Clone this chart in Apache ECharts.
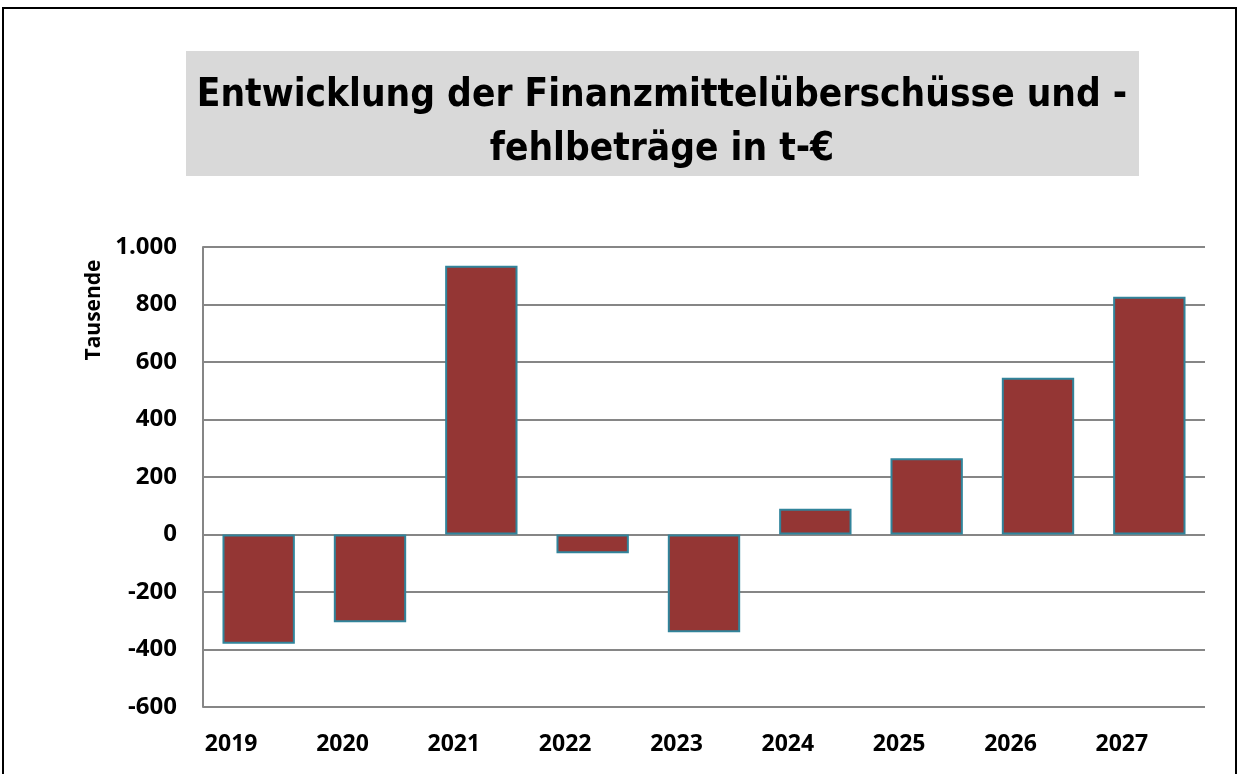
<!DOCTYPE html>
<html><head><meta charset="utf-8">
<script src="https://cdn.jsdelivr.net/npm/echarts@6/dist/echarts.min.js"></script>
<style>html,body{margin:0;padding:0;background:#fff}#c{width:1237px;height:774px}</style>
</head><body><div id="c"></div>
<script>
const categories = ['2019','2020','2021','2022','2023','2024','2025','2026','2027'];
const values = [-380, -305, 935, -65, -340, 90, 265, 545, 827];
const titleLines = ['Entwicklung der Finanzmittelüberschüsse und -', 'fehlbeträge in t-€'];
const axisName = 'Tausende';

const TFONT = '"Liberation Sans Narrow", "DejaVu Sans Condensed", "Open Sans", sans-serif';
const LFONT = '"Open Sans", sans-serif';
const chart = echarts.init(document.getElementById('c'));
chart.setOption({
  animation: false,
  backgroundColor: '#fff',
  graphic: [
    {type:'rect', shape:{x:3,y:8,width:1233,height:800}, style:{fill:'none', stroke:'#000', lineWidth:2}, z:0},
    {type:'rect', shape:{x:186,y:51,width:953,height:125}, style:{fill:'#d9d9d9'}, z:1},
    {type:'text', x:662, y:96, style:{text:titleLines[0], font:'bold 38.5px ' + TFONT, fill:'#000', textAlign:'center', textVerticalAlign:'middle'}, z:2},
    {type:'text', x:662, y:150, style:{text:titleLines[1], font:'bold 38.5px ' + TFONT, fill:'#000', textAlign:'center', textVerticalAlign:'middle'}, z:2},
    {type:'text', x:94, y:310, rotation:Math.PI/2, style:{text:axisName, font:'bold 21px ' + LFONT, fill:'#000', textAlign:'center', textVerticalAlign:'middle'}, z:2}
  ],
  grid: {left:203, right:32, top:247, bottom:67, containLabel:false},
  xAxis: {
    type:'category', data:categories,
    axisLine:{show:false}, axisTick:{show:false},
    axisLabel:{fontFamily:LFONT, fontWeight:'bold', fontSize:23, color:'#000', margin:26, padding:[0,55,0,0]}
  },
  yAxis: {
    type:'value', min:-600, max:1000, interval:200,
    axisLine:{show:true, lineStyle:{color:'#868686', width:2}}, axisTick:{show:false},
    splitLine:{lineStyle:{color:'#868686', width:2}},
    axisLabel:{fontFamily:LFONT, fontWeight:'bold', fontSize:24, color:'#000', margin:26,
      formatter: v => v.toLocaleString('de-DE')}
  },
  series: [{
    type:'bar', data:values, barCategoryGap:'35%',
    itemStyle:{color:'#943634', borderColor:'#31849b', borderWidth:2}
  }]
});
</script></body></html>
